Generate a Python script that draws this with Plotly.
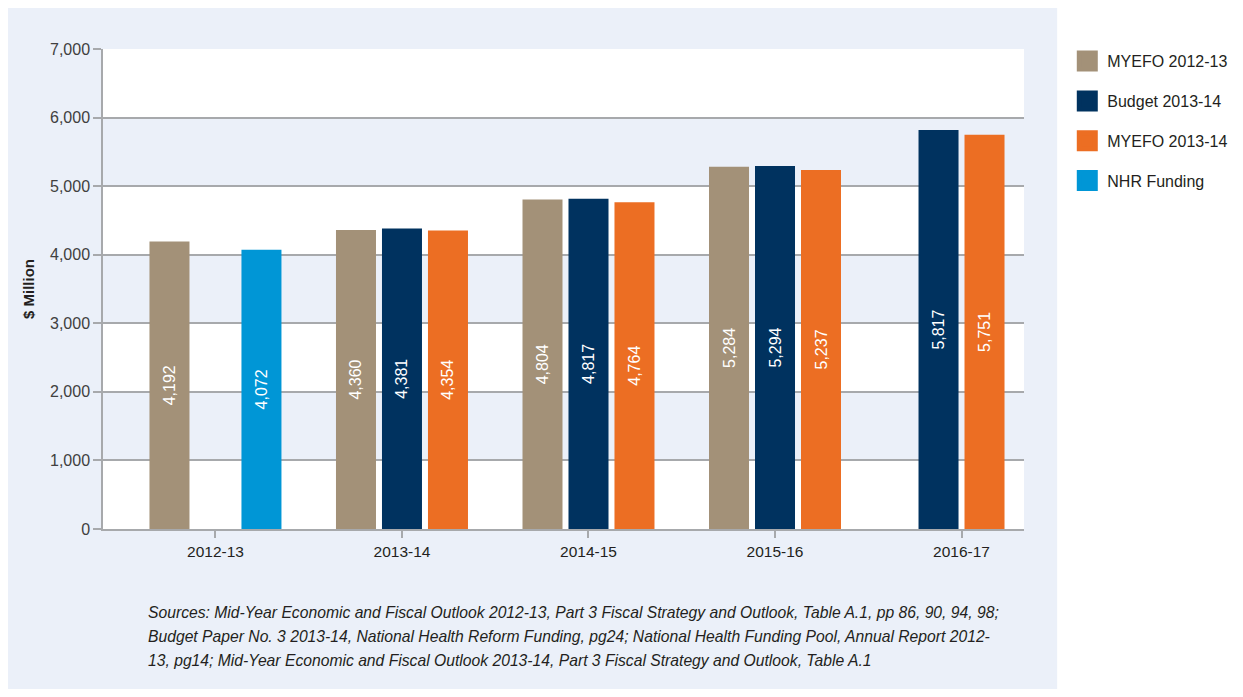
import plotly.graph_objects as go

# data ($ million)
years = ["2012-13", "2013-14", "2014-15", "2015-16", "2016-17"]
myefo_2012_13 = [4192, 4360, 4804, 5284, None]
budget_2013_14 = [None, 4381, 4817, 5294, 5817]
myefo_2013_14 = [None, 4354, 4764, 5237, 5751]
nhr_funding = [4072, None, None, None, None]

TAN = "#a39178"
NAVY = "#00325f"
ORANGE = "#ec6e23"
BLUE = "#0096d6"
PANEL = "#ebf0f9"
GRID = "#a7a9ac"
TXT = "#231f20"
FONT = "Liberation Sans, Arial, sans-serif"

# bar geometry in category units (1 category = ~186.5 px)
W = 0.2145
STEP = 0.2466


def fmt(vals):
    return [f"{v:,}" if v is not None else "" for v in vals]


series = [
    ("MYEFO 2012-13", myefo_2012_13, TAN, [-STEP - W / 2] * 5),
    ("Budget 2013-14", budget_2013_14, NAVY, [-W / 2] * 4 + [-STEP / 2 - W / 2]),
    ("MYEFO 2013-14", myefo_2013_14, ORANGE, [STEP - W / 2] * 4 + [STEP / 2 - W / 2]),
    ("NHR Funding", nhr_funding, BLUE, [STEP - W / 2] * 5),
]

fig = go.Figure()
for name, vals, col, offs in series:
    fig.add_trace(go.Bar(
        x=years, y=vals, name=name,
        marker=dict(color=col, line=dict(width=0)),
        width=W, offset=offs,
        text=fmt(vals), textposition="inside", insidetextanchor="middle",
        textangle=-90, textfont=dict(color="white", size=16, family=FONT),
        showlegend=False, hoverinfo="x+y+name",
    ))

# legend entries with larger square swatches
for name, vals, col, offs in series:
    fig.add_trace(go.Scatter(
        x=[None], y=[None], mode="markers", name=name,
        marker=dict(symbol="square", size=16, color=col, line=dict(color=col, width=5)),
        legendgroup=name,
    ))

shapes = [
    # light blue panel behind the chart
    dict(type="rect", xref="paper", yref="paper", x0=-0.12, x1=1.036, y0=-0.4, y1=1.09,
         fillcolor=PANEL, line=dict(width=0), layer="below"),
    # white plot area
    dict(type="rect", xref="paper", yref="paper", x0=0, x1=1, y0=0, y1=1,
         fillcolor="white", line=dict(width=0), layer="below"),
]
# alternating bands
for lo in (1000, 3000, 5000):
    shapes.append(dict(type="rect", xref="paper", yref="y", x0=0, x1=1, y0=lo, y1=lo + 1000,
                       fillcolor=PANEL, line=dict(width=0), layer="below"))

source_lines = [
    "Sources: Mid-Year Economic and Fiscal Outlook 2012-13, Part 3 Fiscal Strategy and Outlook, Table A.1, pp 86, 90, 94, 98;",
    "Budget Paper No. 3 2013-14, National Health Reform Funding, pg24; National Health Funding Pool, Annual Report 2012-",
    "13, pg14; Mid-Year Economic and Fiscal Outlook 2013-14, Part 3 Fiscal Strategy and Outlook, Table A.1",
]
annotations = [
    dict(xref="paper", yref="paper", x=0.047, y=-0.173 - 0.05 * i, xanchor="left", yanchor="middle",
         text=line, showarrow=False, align="left",
         font=dict(size=15.7, color=TXT, family=FONT, style="italic"))
    for i, line in enumerate(source_lines)
]

# page body has an 8px default margin, so the figure is a bit smaller
fig.update_layout(
    width=1227, height=681,
    margin=dict(l=95, r=211, t=41, b=160, autoexpand=False),
    paper_bgcolor="white", plot_bgcolor="rgba(0,0,0,0)",
    barmode="overlay",
    font=dict(family=FONT, color=TXT, size=16),
    showlegend=True,
    legend=dict(
        x=1.047, y=1.01, xanchor="left", yanchor="top",
        font=dict(size=16, color=TXT, family=FONT),
        bgcolor="rgba(0,0,0,0)", tracegroupgap=16, traceorder="grouped",
    ),
    xaxis=dict(
        type="category", range=[-0.603, 4.335],
        showline=True, linecolor=GRID, linewidth=2,
        ticks="outside", ticklen=7, tickcolor=GRID, tickwidth=1.5,
        showgrid=False, tickfont=dict(size=15.5, color=TXT), fixedrange=True,
    ),
    yaxis=dict(
        range=[0, 7000], dtick=1000, tickformat=",",
        showgrid=True, gridcolor=GRID, gridwidth=2,
        showline=True, linecolor=GRID, linewidth=1.5,
        ticks="outside", ticklen=8, tickcolor=GRID, tickwidth=1.5,
        zeroline=False, tickfont=dict(size=16, color="#404040"),
        title=dict(text="<b>$ Million</b>", font=dict(size=15, color=TXT), standoff=12),
    ),
    shapes=shapes,
    annotations=annotations,
)

fig.write_html("out.html")
